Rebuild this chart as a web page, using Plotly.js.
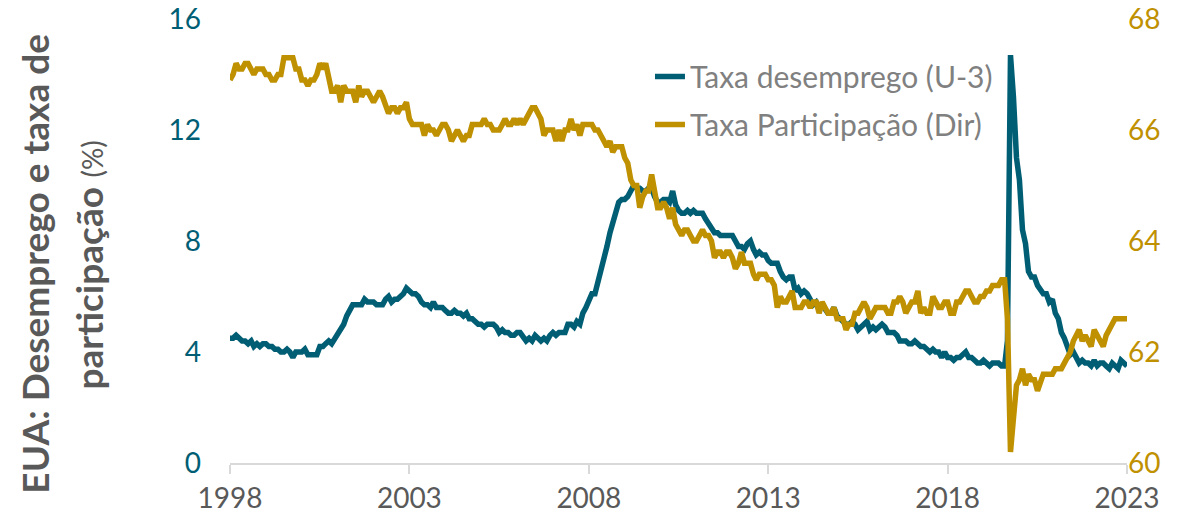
<!DOCTYPE html>
<html>
<head>
<meta charset="utf-8">
<script src="https://cdn.plot.ly/plotly-3.0.1.min.js"></script>
<style>
  html, body { margin: 0; padding: 0; background: #ffffff; }
  #chart { width: 1196px; height: 519px; }
</style>
</head>
<body>
<div id="chart"></div>
<script>
// Monthly series, July 1998 to July 2023
const startYear = 1998;
const startMonth = 7;

// Taxa desemprego (U-3), %
const unemployment = [
  4.5, 4.5, 4.6, 4.5, 4.4, 4.4,
  4.3, 4.4, 4.2, 4.3, 4.2, 4.3, 4.3, 4.2, 4.2, 4.1, 4.1, 4.0,
  4.0, 4.1, 4.0, 3.8, 4.0, 4.0, 4.0, 4.1, 3.9, 3.9, 3.9, 3.9,
  4.2, 4.2, 4.3, 4.4, 4.3, 4.5, 4.6, 4.9, 5.0, 5.3, 5.5, 5.7,
  5.7, 5.7, 5.7, 5.9, 5.8, 5.8, 5.8, 5.7, 5.7, 5.7, 5.9, 6.0,
  5.8, 5.9, 5.9, 6.0, 6.1, 6.3, 6.2, 6.1, 6.1, 6.0, 5.8, 5.7,
  5.7, 5.6, 5.8, 5.6, 5.6, 5.6, 5.5, 5.4, 5.4, 5.5, 5.4, 5.4,
  5.3, 5.4, 5.2, 5.2, 5.1, 5.0, 5.0, 4.9, 5.0, 5.0, 5.0, 4.9,
  4.7, 4.8, 4.7, 4.7, 4.6, 4.6, 4.7, 4.7, 4.5, 4.4, 4.5, 4.4,
  4.6, 4.5, 4.4, 4.5, 4.4, 4.6, 4.7, 4.6, 4.7, 4.7, 4.7, 5.0,
  5.0, 4.9, 5.1, 5.0, 5.4, 5.6, 5.8, 6.1, 6.1, 6.5, 6.8, 7.3,
  7.8, 8.3, 8.7, 9.0, 9.4, 9.5, 9.5, 9.6, 9.8, 10.0, 9.9, 9.9,
  9.8, 9.8, 9.9, 9.9, 9.6, 9.4, 9.4, 9.5, 9.5, 9.4, 9.8, 9.3,
  9.1, 9.0, 9.0, 9.1, 9.0, 9.1, 9.0, 9.0, 9.0, 8.8, 8.6, 8.5,
  8.3, 8.3, 8.2, 8.2, 8.2, 8.2, 8.2, 8.0, 7.8, 7.8, 7.7, 7.9,
  8.0, 7.7, 7.5, 7.6, 7.5, 7.5, 7.3, 7.2, 7.2, 7.2, 6.9, 6.7,
  6.6, 6.7, 6.7, 6.2, 6.3, 6.1, 6.2, 6.1, 5.9, 5.7, 5.8, 5.6,
  5.7, 5.5, 5.4, 5.4, 5.6, 5.3, 5.2, 5.1, 5.0, 5.0, 5.1, 5.0,
  4.8, 4.9, 5.0, 5.1, 4.8, 4.9, 4.8, 4.9, 5.0, 4.9, 4.7, 4.7,
  4.7, 4.6, 4.4, 4.4, 4.4, 4.3, 4.3, 4.4, 4.3, 4.2, 4.2, 4.1,
  4.0, 4.1, 4.0, 4.0, 3.8, 4.0, 3.8, 3.8, 3.7, 3.8, 3.8, 3.9,
  4.0, 3.8, 3.8, 3.7, 3.6, 3.6, 3.7, 3.6, 3.5, 3.6, 3.6, 3.6,
  3.5, 3.5, 4.4, 14.7, 13.2, 11.0, 10.2, 8.4, 7.9, 6.9, 6.7, 6.7,
  6.4, 6.2, 6.1, 6.1, 5.8, 5.9, 5.4, 5.2, 4.7, 4.5, 4.2, 3.9,
  4.0, 3.8, 3.6, 3.7, 3.6, 3.6, 3.5, 3.7, 3.5, 3.6, 3.6, 3.5,
  3.4, 3.6, 3.5, 3.4, 3.7, 3.6, 3.5
];

// Taxa Participação (Dir), %
const participation = [
  66.9, 67.0, 67.2, 67.1, 67.1, 67.2,
  67.2, 67.1, 67.0, 67.1, 67.1, 67.1, 67.0, 67.0, 66.9, 66.9, 67.0, 67.0,
  67.3, 67.3, 67.3, 67.3, 67.1, 67.1, 66.9, 66.9, 66.8, 66.9, 66.9, 67.0,
  67.2, 67.1, 67.2, 66.9, 66.7, 66.7, 66.8, 66.5, 66.8, 66.7, 66.7, 66.7,
  66.5, 66.8, 66.6, 66.7, 66.7, 66.6, 66.5, 66.6, 66.7, 66.6, 66.4, 66.3,
  66.4, 66.4, 66.3, 66.4, 66.4, 66.5, 66.2, 66.1, 66.1, 66.1, 66.1, 65.9,
  66.1, 66.0, 66.0, 65.9, 66.0, 66.1, 66.1, 66.0, 65.8, 65.9, 66.0, 65.9,
  65.8, 65.9, 65.9, 66.1, 66.1, 66.1, 66.1, 66.2, 66.1, 66.1, 66.0, 66.0,
  66.0, 66.1, 66.2, 66.1, 66.1, 66.2, 66.1, 66.2, 66.1, 66.2, 66.3, 66.4,
  66.4, 66.3, 66.2, 65.9, 66.0, 66.0, 66.0, 65.8, 66.0, 65.8, 66.0, 66.0,
  66.2, 66.0, 66.1, 65.9, 66.1, 66.1, 66.1, 66.1, 66.0, 66.0, 65.9, 65.8,
  65.7, 65.8, 65.6, 65.7, 65.7, 65.7, 65.5, 65.4, 65.1, 65.0, 65.0, 64.6,
  64.8, 64.9, 64.9, 65.2, 64.9, 64.6, 64.6, 64.7, 64.6, 64.4, 64.6, 64.3,
  64.2, 64.1, 64.2, 64.2, 64.1, 64.0, 64.0, 64.1, 64.2, 64.1, 64.1, 64.0,
  63.7, 63.8, 63.8, 63.7, 63.8, 63.8, 63.7, 63.5, 63.6, 63.8, 63.6, 63.6,
  63.6, 63.4, 63.3, 63.4, 63.4, 63.4, 63.3, 63.3, 63.2, 62.8, 63.0, 62.9,
  62.9, 63.0, 63.1, 62.8, 62.8, 62.8, 62.9, 62.9, 62.8, 62.9, 62.9, 62.7,
  62.9, 62.8, 62.7, 62.7, 62.8, 62.6, 62.6, 62.6, 62.4, 62.5, 62.5, 62.7,
  62.7, 62.8, 62.9, 62.8, 62.6, 62.7, 62.8, 62.8, 62.8, 62.8, 62.7, 62.7,
  62.9, 62.9, 63.0, 62.9, 62.7, 62.8, 62.9, 62.9, 63.1, 62.7, 62.8, 62.7,
  62.7, 63.0, 62.9, 62.8, 62.8, 62.9, 62.9, 62.7, 62.7, 62.9, 62.9, 63.0,
  63.1, 63.1, 63.0, 62.9, 62.9, 63.0, 63.0, 63.1, 63.1, 63.2, 63.2, 63.2,
  63.3, 63.3, 62.6, 60.2, 60.8, 61.4, 61.5, 61.7, 61.4, 61.6, 61.5, 61.5,
  61.3, 61.5, 61.6, 61.6, 61.6, 61.6, 61.7, 61.7, 61.7, 61.8, 61.9, 62.0,
  62.2, 62.3, 62.4, 62.2, 62.3, 62.2, 62.1, 62.4, 62.3, 62.2, 62.1, 62.3,
  62.4, 62.5, 62.6, 62.6, 62.6, 62.6, 62.6
];

const tickDates = ["1998-07-01", "2003-07-01", "2008-07-01", "2013-07-01", "2018-07-01", "2023-07-01"];
const tickYears = ["1998", "2003", "2008", "2013", "2018", "2023"];
const leftTicks = [0, 4, 8, 12, 16];
const rightTicks = [60, 62, 64, 66, 68];
const seriesNames = ["Taxa desemprego (U-3)", "Taxa Participação (Dir)"];

function monthDates(n) {
  const out = [];
  for (let i = 0; i < n; i++) {
    const t = (startYear * 12 + (startMonth - 1)) + i;
    const y = Math.floor(t / 12);
    const m = (t % 12) + 1;
    out.push(y + "-" + String(m).padStart(2, "0") + "-01");
  }
  return out;
}

const TEAL = "#005e74";
const GOLD = "#bf9000";
const FONT = "Lato, 'Open Sans', sans-serif";

const traces = [
  {
    x: monthDates(unemployment.length), y: unemployment, name: seriesNames[0],
    type: "scatter", mode: "lines", yaxis: "y", legendgroup: "a",
    line: { color: TEAL, width: 5.5, shape: "linear" }
  },
  {
    x: monthDates(participation.length), y: participation, name: seriesNames[1],
    type: "scatter", mode: "lines", yaxis: "y2", legendgroup: "b",
    line: { color: GOLD, width: 5.5, shape: "linear" }
  }
];

const layout = {
  width: 1196, height: 519,
  margin: { l: 230, r: 69, t: 19, b: 56 },
  paper_bgcolor: "#ffffff", plot_bgcolor: "#ffffff",
  font: { family: FONT, color: "#595959", size: 28 },
  showlegend: true,
  legend: {
    x: 0.4682, xanchor: "left", y: 0.929, yanchor: "top",
    font: { family: FONT, size: 30, color: "#808080" },
    tracegroupgap: 6, bgcolor: "rgba(0,0,0,0)"
  },
  xaxis: {
    type: "date", range: [tickDates[0], tickDates[tickDates.length - 1]],
    tickmode: "array", tickvals: tickDates, ticktext: tickYears,
    showgrid: false, zeroline: false,
    showline: true, linecolor: "#d9d9d9", linewidth: 2,
    ticks: "outside", ticklen: 9, tickwidth: 2, tickcolor: "#d9d9d9",
    tickfont: { family: FONT, size: 28, color: "#595959" }
  },
  yaxis: {
    range: [0, 16], tickmode: "array", tickvals: leftTicks,
    showgrid: false, zeroline: false, showline: false, ticks: "",
    ticklabelstandoff: 28,
    tickfont: { family: FONT, size: 28, color: TEAL }
  },
  yaxis2: {
    range: [60, 68], tickmode: "array", tickvals: rightTicks,
    overlaying: "y", side: "right",
    showgrid: false, zeroline: false, showline: false, ticks: "",
    tickfont: { family: FONT, size: 28, color: GOLD }
  },
  annotations: [
    {
      xref: "paper", yref: "paper", x: -0.2174, y: 0.449,
      xanchor: "center", yanchor: "middle", textangle: -90, showarrow: false,
      text: "<b>EUA: Desemprego e taxa de</b>",
      font: { family: FONT, size: 37, color: "#595959" }
    },
    {
      xref: "paper", yref: "paper", x: -0.1583, y: 0.445,
      xanchor: "center", yanchor: "middle", textangle: -90, showarrow: false,
      text: "<b>participação</b> <span style='font-size:28px'>(%)</span>",
      font: { family: FONT, size: 37, color: "#595959" }
    }
  ]
};

Plotly.newPlot("chart", traces, layout, { displayModeBar: false, staticPlot: true });
</script>
</body>
</html>
